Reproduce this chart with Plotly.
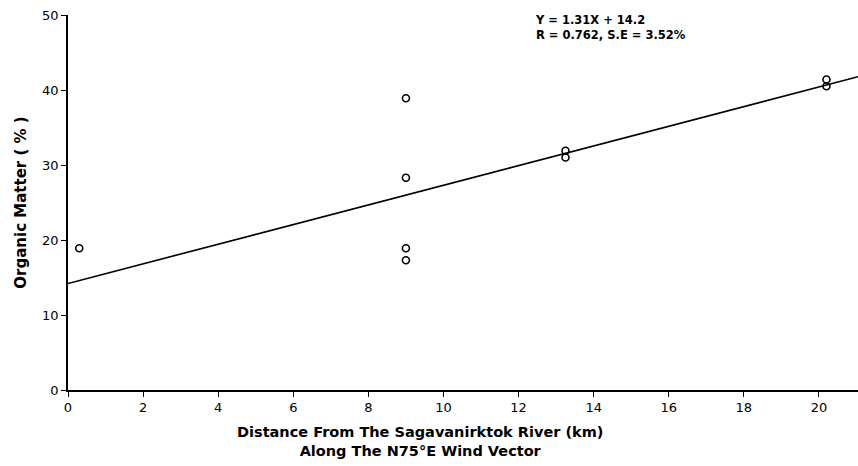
import plotly.graph_objects as go

# Sample distances (km) and organic matter content (%)
distance_km = [0.3, 9.0, 9.0, 9.0, 9.0, 13.25, 13.25, 20.2, 20.2]
organic_pct = [18.9, 38.9, 28.3, 18.9, 17.3, 31.9, 31.0, 41.4, 40.5]

# Regression fit reported on the chart
slope = 1.31
intercept = 14.2
fit_x = [0.0, 21.04]
fit_y = [slope * x + intercept for x in fit_x]

x_ticks = [0, 2, 4, 6, 8, 10, 12, 14, 16, 18, 20]
y_ticks = [0, 10, 20, 30, 40, 50]

font_family = "DejaVu Sans, Liberation Sans, sans-serif"

fig = go.Figure()
fig.add_trace(go.Scatter(
    x=fit_x, y=fit_y, mode="lines",
    line=dict(color="black", width=1.6),
    showlegend=False, hoverinfo="skip",
))
fig.add_trace(go.Scatter(
    x=distance_km, y=organic_pct, mode="markers",
    marker=dict(symbol="circle-open", size=7, color="black",
                line=dict(width=1.6, color="black")),
    showlegend=False,
))

# Regression statistics
fig.add_annotation(
    x=0.588, y=1.01, xref="paper", yref="paper",
    xanchor="left", yanchor="top", align="left", showarrow=False,
    text="<b>Y = 1.31X + 14.2<br>R = 0.762, S.E = 3.52%</b>",
    font=dict(family=font_family, size=11.5, color="black"),
)

# Two-line x-axis caption, set slightly left of the plot centre
fig.add_annotation(
    x=0.446, y=-0.085, xref="paper", yref="paper",
    xanchor="center", yanchor="top", align="center", showarrow=False,
    text="<b>Distance From The Sagavanirktok River (km)<br>Along The N75°E Wind Vector</b>",
    font=dict(family=font_family, size=14.5, color="black"),
)

fig.update_layout(
    width=858, height=466,
    margin=dict(l=68, r=0, t=15, b=76),
    paper_bgcolor="white", plot_bgcolor="white",
    font=dict(family=font_family, color="black"),
    xaxis=dict(
        range=[0, 21.04], tickvals=x_ticks, ticktext=[str(v) for v in x_ticks],
        showgrid=False, zeroline=False, showline=True, linecolor="black", linewidth=1.5,
        ticks="outside", ticklen=5, tickwidth=1.2, tickcolor="black",
        tickfont=dict(size=13),
    ),
    yaxis=dict(
        range=[0, 50], tickvals=y_ticks, ticktext=[str(v) for v in y_ticks],
        showgrid=False, zeroline=False, showline=True, linecolor="black", linewidth=1.5,
        ticks="outside", ticklen=5, tickwidth=1.2, tickcolor="black",
        tickfont=dict(size=13),
        title=dict(text="<b>Organic Matter ( % )</b>", font=dict(size=15), standoff=12),
    ),
)

fig.write_html("out.html")
